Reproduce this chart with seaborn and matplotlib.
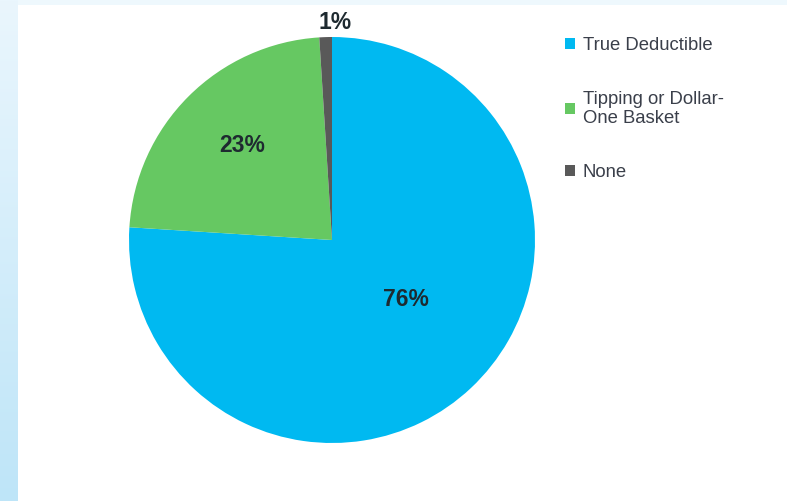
import numpy as np
import matplotlib
matplotlib.use("Agg")
import matplotlib.pyplot as plt
import seaborn as sns

categories = ["True Deductible", "Tipping or Dollar-\nOne Basket", "None"]
values = [76, 23, 1]
pct_labels = ["76%", "23%", "1%"]
colors = ["#00B9F1", "#66C862", "#595959"]

sns.set_theme(style="white")
plt.rcParams["font.family"] = ["Liberation Sans", "DejaVu Sans"]

W, H = 787, 501
fig = plt.figure(figsize=(W / 100, H / 100), dpi=100)
fig.patch.set_facecolor("white")

# background decoration: light blue left strip (gradient) and top band
bg = fig.add_axes([0, 0, 1, 1], zorder=-10)
bg.set_xlim(0, W)
bg.set_ylim(H, 0)
bg.axis("off")
grad = np.linspace(0, 1, 200).reshape(-1, 1)
cmap = matplotlib.colors.LinearSegmentedColormap.from_list("g", ["#EAF6FD", "#BEE5F8"])
bg.imshow(grad, cmap=cmap, extent=[0, 18, H, 0], aspect="auto")
bg.add_patch(plt.Rectangle((18, 0), W - 18, 5, color="#EEF8FD", lw=0))

# pie axes
cx, cy, r = 332, 240, 203
ax = fig.add_axes([(cx - r) / W, (H - cy - r) / H, 2 * r / W, 2 * r / H])
wedges, _ = ax.pie(values, colors=colors, startangle=90, counterclock=False,
                   radius=1.0, wedgeprops=dict(linewidth=0))
ax.set_xlim(-1, 1)
ax.set_ylim(-1, 1)
ax.set_aspect("equal")

# label placement: (radial distance, angular nudge in degrees)
place = [(0.47, 8.0), (0.64, -1.4), (1.07, -2.5)]
for w, lab, (d, nudge) in zip(wedges, pct_labels, place):
    ang = np.deg2rad((w.theta1 + w.theta2) / 2 + nudge)
    ax.text(d * np.cos(ang), d * np.sin(ang), lab,
            ha="center", va="center", fontsize=16.5, fontweight="bold",
            color="#1E2A30", clip_on=False)

fig.legend(wedges, categories, loc="upper left",
           bbox_to_anchor=(565 / W, 1 - 37 / H), frameon=False,
           fontsize=13.3, labelcolor="#3A3F4A",
           handlelength=0.55, handleheight=0.55, handletextpad=0.4,
           labelspacing=1.98, borderpad=0, borderaxespad=0)

fig.savefig("out.png", dpi=100)
